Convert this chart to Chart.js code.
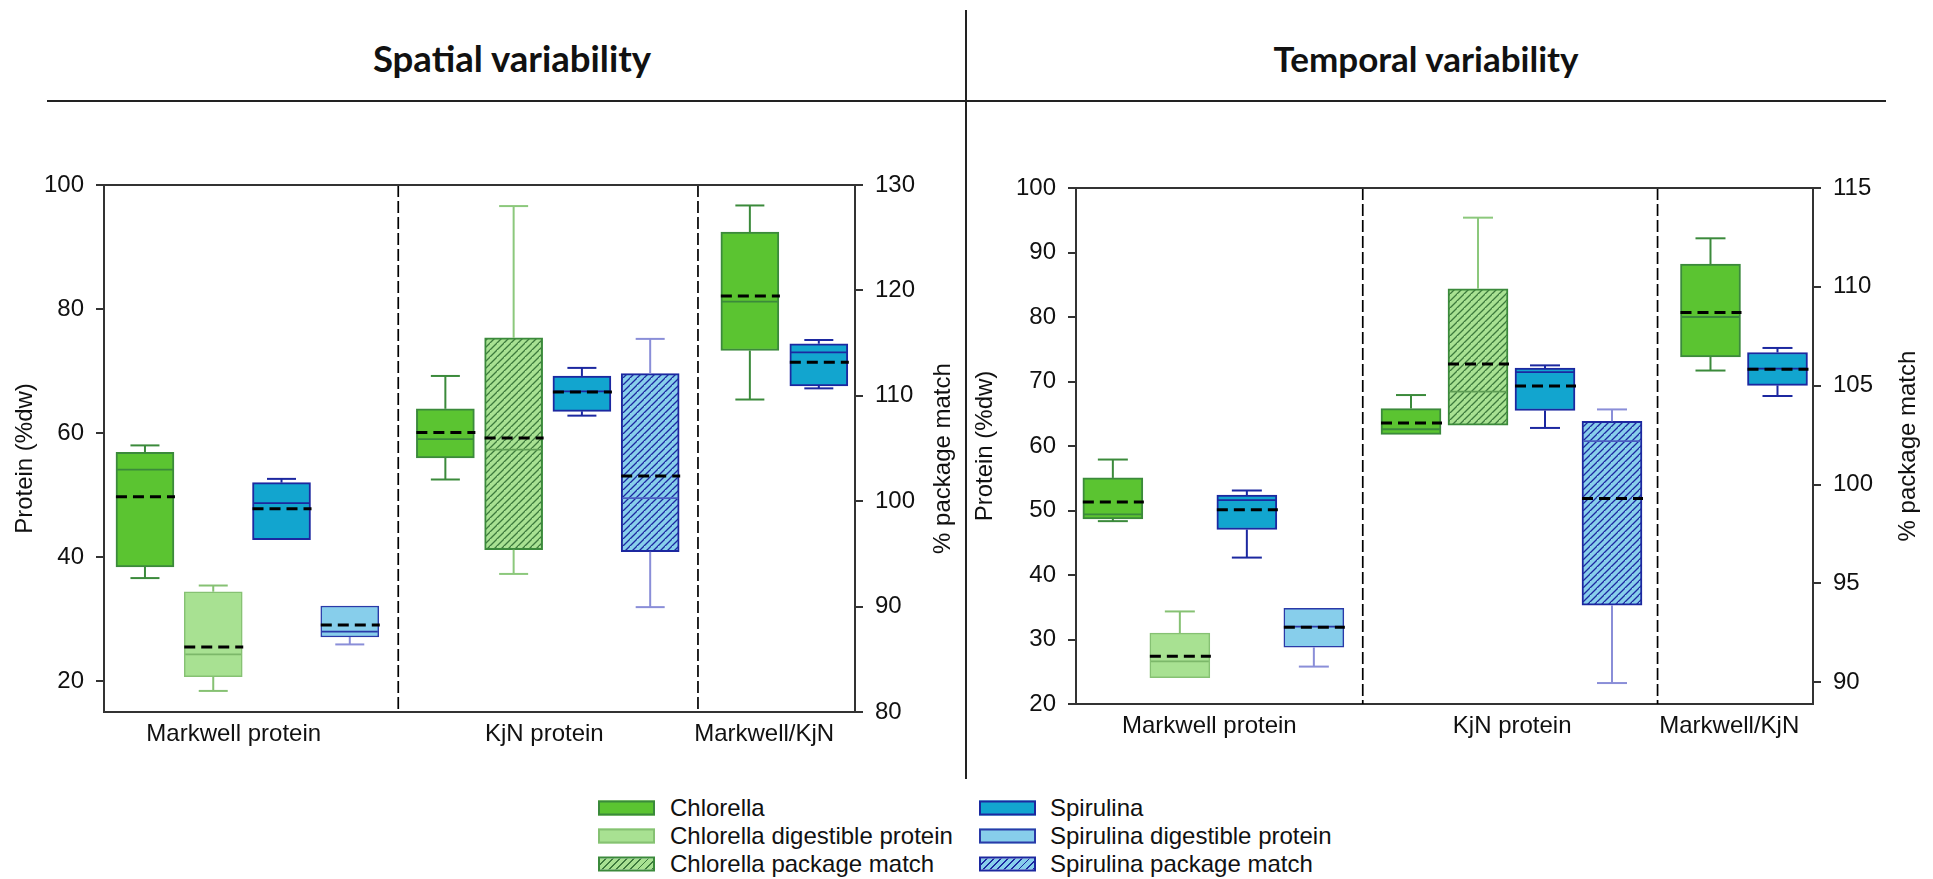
<!DOCTYPE html>
<html><head><meta charset="utf-8">
<script src="https://cdn.jsdelivr.net/npm/chart.js@4.4.0/dist/chart.umd.min.js"></script>
<style>
html,body{margin:0;padding:0;background:#fff;}
body{width:1933px;height:879px;position:relative;overflow:hidden;font-family:"Liberation Sans",Arial,sans-serif;}
.title{position:absolute;font-family:Lato,"Open Sans",sans-serif;font-weight:bold;color:#111;white-space:nowrap;transform:translate(-50%,-50%);font-size:36px;}
#hrule{position:absolute;left:47px;top:100px;width:1839px;height:2px;background:#222;}
#vrule{position:absolute;left:965px;top:10px;width:2px;height:769px;background:#222;z-index:5;}
canvas{position:absolute;}
.lg{position:absolute;font-size:24px;color:#111;white-space:nowrap;transform:translateY(-50%);line-height:1;}
.sw{position:absolute;width:57px;height:15px;box-sizing:border-box;border:2px solid;transform:translateY(-50%);}
</style></head>
<body>
<div class="title" id="t1" style="left:512px;top:58px">Spatial variability</div>
<div class="title" id="t2" style="left:1426px;top:58px">Temporal variability</div>
<div id="hrule"></div>
<div id="vrule"></div>
<canvas id="c1" width="965" height="620" style="left:0;top:140px"></canvas>
<canvas id="c2" width="966" height="620" style="left:967px;top:140px"></canvas>

<div class="sw" style="left:598px;top:808px;background:#5bc431;border-color:#3b8a3b"></div>
<div class="lg" style="left:670px;top:808px">Chlorella</div>
<div class="sw" style="left:598px;top:836px;background:#a8e192;border-color:#86c173"></div>
<div class="lg" style="left:670px;top:836px">Chlorella digestible protein</div>
<div class="sw" style="left:598px;top:864px;background:repeating-linear-gradient(135deg,#a8e192 0 3.6px,#3d7a3d 3.6px 5px);border-color:#3b8a3b"></div>
<div class="lg" style="left:670px;top:864px">Chlorella package match</div>
<div class="sw" style="left:979px;top:808px;background:#12a5cf;border-color:#1c28a0"></div>
<div class="lg" style="left:1050px;top:808px">Spirulina</div>
<div class="sw" style="left:979px;top:836px;background:#87ceeb;border-color:#2a3aa8"></div>
<div class="lg" style="left:1050px;top:836px">Spirulina digestible protein</div>
<div class="sw" style="left:979px;top:864px;background:repeating-linear-gradient(135deg,#87ceeb 0 3.6px,#1c28a0 3.6px 5px);border-color:#1c28a0"></div>
<div class="lg" style="left:1050px;top:864px">Spirulina package match</div>

<script>
// ---------------- DATA ----------------
const groupLabels = ['Markwell protein', 'KjN protein', 'Markwell/KjN'];
// each box: [whisker min, Q1, median, Q3, whisker max, mean]
// Spatial variability (left axis: Protein %dw, right axis: % package match)
const spatialChlorella = [[36.6, 38.4, 54.1, 56.9, 58.0, 49.7], [52.5, 56.0, 59.0, 63.9, 69.2, 60.1], [65.4, 73.3, 81.2, 92.4, 96.7, 82.1]];
const spatialChlorellaDigestible = [[18.4, 20.7, 24.3, 34.4, 35.4, 25.5]];
const spatialChlorellaPackage = [[93.1, 95.4, 104.9, 115.5, 128.0, 106.0]];
const spatialSpirulina = [[42.8, 42.8, 48.7, 52.0, 52.6, 47.8], [62.8, 63.5, 66.7, 69.2, 70.5, 66.6], [67.2, 67.6, 73.0, 74.4, 75.0, 71.4]];
const spatialSpirulinaDigestible = [[25.9, 27.1, 27.95, 32.1, 32.2, 29.05]];
const spatialSpirulinaPackage = [[89.95, 95.2, 100.3, 112.1, 115.4, 102.4]];
// Temporal variability
const temporalChlorella = [[48.35, 48.7, 49.4, 55.05, 57.9, 51.3], [61.7, 61.8, 62.6, 65.8, 67.9, 63.55], [71.7, 73.8, 80.0, 88.2, 92.2, 80.7]];
const temporalChlorellaDigestible = [[24.0, 24.1, 26.6, 31.0, 34.35, 27.4]];
const temporalChlorellaPackage = [[102.96, 103.0, 104.7, 109.9, 113.5, 106.1]];
const temporalSpirulina = [[42.7, 47.05, 51.6, 52.4, 53.1, 50.1], [62.8, 65.5, 71.45, 72.1, 72.5, 69.3], [67.75, 69.4, 72.0, 74.5, 75.2, 71.9]];
const temporalSpirulinaDigestible = [[25.8, 28.8, 32.0, 34.85, 34.85, 31.9]];
const temporalSpirulinaPackage = [[89.96, 93.9, 102.2, 103.2, 103.8, 99.3]];
// axis ticks
const spatialLeftTicks = [20, 40, 60, 80, 100];
const spatialRightTicks = [80, 90, 100, 110, 120, 130];
const temporalLeftTicks = [20, 30, 40, 50, 60, 70, 80, 90, 100];
const temporalRightTicks = [90, 95, 100, 105, 110, 115];

// ---------------- LAYOUT / STYLE ----------------
const FONT = '"Liberation Sans", Arial, sans-serif';
Chart.defaults.font.family = FONT;
Chart.defaults.color = '#111';

function hatch(bg, line) {
  const c = document.createElement('canvas'); c.width = 7; c.height = 7;
  const g = c.getContext('2d');
  g.fillStyle = bg; g.fillRect(0, 0, 7, 7);
  g.strokeStyle = line; g.lineWidth = 1.3;
  g.beginPath();
  g.moveTo(-1, 8); g.lineTo(8, -1);
  g.moveTo(-4.5, 3.5); g.lineTo(3.5, -4.5);
  g.moveTo(3.5, 10.5); g.lineTo(10.5, 3.5);
  g.stroke();
  return g.createPattern(c, 'repeat');
}

// series: which groups they appear in, and slot index within each group
const SERIES = [
  {name: 'Chlorella', groups: [0, 1, 2], slot: [0, 0, 0], axis: 'y', fill: '#5bc431', border: '#3b8a3b', whisker: '#3b8a3b', median: '#3b8a3b', bw: 2},
  {name: 'Chlorella digestible protein', groups: [0], slot: [1], axis: 'y', fill: '#a8e192', border: '#86c173', whisker: '#86c173', median: '#7cb86a', bw: 1.5},
  {name: 'Chlorella package match', groups: [1], slot: [1], axis: 'y1', fill: hatch('#a8e192', '#3d7a3d'), border: '#3b8a3b', whisker: '#8cc87c', median: '#5f9e55', bw: 2},
  {name: 'Spirulina', groups: [0, 1, 2], slot: [2, 2, 1], axis: 'y', fill: '#12a5cf', border: '#1c28a0', whisker: '#1c28a0', median: '#1c28a0', bw: 2},
  {name: 'Spirulina digestible protein', groups: [0], slot: [3], axis: 'y', fill: '#87ceeb', border: '#2a3aa8', whisker: '#8a8ed8', median: '#2a3aa8', bw: 1.5},
  {name: 'Spirulina package match', groups: [1], slot: [3], axis: 'y1', fill: hatch('#87ceeb', '#1c28a0'), border: '#1c28a0', whisker: '#8a8ed8', median: '#4a5cc0', bw: 2}
];

function buildDatasets(stats, slots, thickness) {
  return SERIES.map((s, si) => {
    const st = stats[si];
    return {
      label: s.name,
      data: s.groups.map((g, k) => ({x: slots[g][s.slot[k]], y: [st[k][1], st[k][3]]})),
      stats: st,
      yAxisID: s.axis,
      backgroundColor: s.fill,
      borderColor: s.border,
      borderWidth: s.bw,
      borderSkipped: false,
      grouped: false,
      barThickness: thickness,
      whiskerColor: s.whisker,
      medianColor: s.median
    };
  });
}

function line(ctx, x1, y1, x2, y2) { ctx.beginPath(); ctx.moveTo(x1, y1); ctx.lineTo(x2, y2); ctx.stroke(); }

const boxPlugin = {
  id: 'boxExtras',
  beforeDatasetsDraw(chart, a, o) {
    const {ctx, chartArea: ca} = chart; const xs = chart.scales.x;
    ctx.save(); ctx.strokeStyle = '#000'; ctx.lineWidth = 1.7; ctx.setLineDash([12, 4]);
    o.dividers.forEach(v => { const px = xs.getPixelForValue(v); line(ctx, px, ca.top, px, ca.bottom); });
    ctx.restore();
  },
  afterDatasetsDraw(chart, a, o) {
    const {ctx, chartArea: ca} = chart; const xs = chart.scales.x;
    chart.data.datasets.forEach(ds => {
      const ys = chart.scales[ds.yAxisID];
      const half = ds.barThickness / 2;
      const cap = ds.barThickness / 4;
      ds.data.forEach((p, i) => {
        const s = ds.stats[i];
        const cx = xs.getPixelForValue(p.x);
        const yMin = ys.getPixelForValue(s[0]), yQ1 = ys.getPixelForValue(s[1]), yMed = ys.getPixelForValue(s[2]);
        const yQ3 = ys.getPixelForValue(s[3]), yMax = ys.getPixelForValue(s[4]), yMean = ys.getPixelForValue(s[5]);
        ctx.save();
        ctx.strokeStyle = ds.whiskerColor; ctx.lineWidth = 2;
        if (yQ3 - yMax > 0.8) { line(ctx, cx, yQ3, cx, yMax); line(ctx, cx - cap, yMax, cx + cap, yMax); }
        if (yMin - yQ1 > 0.8) { line(ctx, cx, yQ1, cx, yMin); line(ctx, cx - cap, yMin, cx + cap, yMin); }
        ctx.strokeStyle = ds.medianColor; ctx.lineWidth = 1.8;
        line(ctx, cx - half + 1, yMed, cx + half - 1, yMed);
        ctx.strokeStyle = '#000'; ctx.lineWidth = 3; ctx.setLineDash([11, 6]);
        line(ctx, cx - half, yMean, cx + half + 1, yMean);
        ctx.restore();
      });
    });
    ctx.save(); ctx.strokeStyle = '#333'; ctx.lineWidth = 2;
    line(ctx, ca.left - 1, ca.top, ca.right + 1, ca.top);
    ctx.restore();
  },
  afterDraw(chart, a, o) {
    const {ctx, chartArea: ca} = chart;
    const cy = (ca.top + ca.bottom) / 2;
    ctx.save();
    ctx.fillStyle = '#111'; ctx.font = '24px ' + FONT; ctx.textAlign = 'center'; ctx.textBaseline = 'middle';
    [[ca.left - o.leftGap, o.leftText], [ca.right + o.rightGap, o.rightText]].forEach(([x, t]) => {
      ctx.save(); ctx.translate(x, cy + o.titleShift); ctx.rotate(-Math.PI / 2); ctx.fillText(t, 0, 0); ctx.restore();
    });
    ctx.restore();
  }
};

function yAxis(pos, min, max, ticks, width) {
  return {
    type: 'linear', position: pos, min, max, bounds: 'data',
    afterBuildTicks: sc => { sc.ticks = ticks.map(v => ({value: v})); },
    afterFit: sc => { sc.width = width; },
    grid: {display: true, drawOnChartArea: false, drawTicks: true, tickLength: 8, color: '#333', lineWidth: 2},
    border: {display: true, color: '#333', width: 2},
    ticks: {font: {size: 24}, color: '#111', padding: 12}
  };
}

function makeChart(id, stats, slots, thickness, cfg) {
  return new Chart(document.getElementById(id), {
    type: 'bar',
    data: {datasets: buildDatasets(stats, slots, thickness)},
    options: {
      responsive: false, animation: false, events: [],
      layout: {padding: {top: cfg.padTop, left: 0, right: 0, bottom: 0}},
      plugins: {legend: {display: false}, tooltip: {enabled: false},
        boxExtras: {dividers: cfg.dividers, leftGap: cfg.leftGap, rightGap: cfg.rightGap, titleShift: cfg.titleShift,
          leftText: 'Protein (%dw)', rightText: '% package match'}},
      scales: {
        x: {
          type: 'linear', min: 0, max: 11, bounds: 'data', offset: false,
          afterBuildTicks: sc => { sc.ticks = cfg.labelPos.map(v => ({value: v})); },
          afterFit: sc => { sc.height = cfg.xHeight; },
          grid: {display: false, drawTicks: false},
          border: {display: true, color: '#333', width: 2},
          ticks: {autoSkip: false, maxRotation: 0, font: {size: 24}, color: '#111', padding: 8,
            callback: (v, i) => groupLabels[i]}
        },
        y: yAxis('left', cfg.leftMin, cfg.leftMax, cfg.leftTicks, cfg.leftW),
        y1: yAxis('right', cfg.rightMin, cfg.rightMax, cfg.rightTicks, cfg.rightW)
      }
    },
    plugins: [boxPlugin]
  });
}

makeChart('c1',
  [spatialChlorella, spatialChlorellaDigestible, spatialChlorellaPackage, spatialSpirulina, spatialSpirulinaDigestible, spatialSpirulinaPackage],
  [[0.6, 1.6, 2.6, 3.6], [5, 6, 7, 8], [9.46, 10.47]], 58,
  {padTop: 45, xHeight: 48, leftW: 104, rightW: 110, leftMin: 15, leftMax: 100, rightMin: 80, rightMax: 130,
   leftTicks: spatialLeftTicks, rightTicks: spatialRightTicks, dividers: [4.31, 8.7], labelPos: [1.9, 6.45, 9.67],
   leftGap: 79, rightGap: 88, titleShift: 10});

makeChart('c2',
  [temporalChlorella, temporalChlorellaDigestible, temporalChlorellaPackage, temporalSpirulina, temporalSpirulinaDigestible, temporalSpirulinaPackage],
  [[0.55, 1.55, 2.55, 3.55], [5, 6, 7, 8], [9.47, 10.47]], 60,
  {padTop: 48, xHeight: 56, leftW: 109, rightW: 120, leftMin: 20, leftMax: 100, rightMin: 88.9, rightMax: 115,
   leftTicks: temporalLeftTicks, rightTicks: temporalRightTicks, dividers: [4.28, 8.68], labelPos: [1.99, 6.51, 9.75],
   leftGap: 91, rightGap: 95, titleShift: 0});

// fit the bold panel titles to the widths seen in the reference
function fitTitle(id, target) {
  const el = document.getElementById(id);
  const c = document.createElement('canvas').getContext('2d');
  c.font = 'bold 100px Lato';
  const w = c.measureText(el.textContent).width;
  el.style.fontSize = (100 * target / w).toFixed(1) + 'px';
}
fitTitle('t1', 279); fitTitle('t2', 306);
</script>
</body></html>
